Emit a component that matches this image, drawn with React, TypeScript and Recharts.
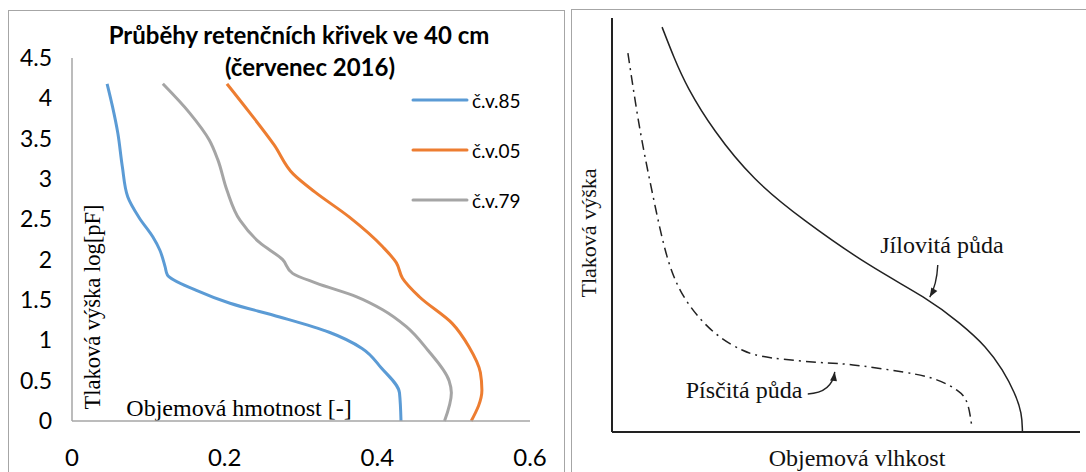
import { LineChart, Line, XAxis, YAxis, ReferenceDot, Customized } from 'recharts'

// left chart: retention curves at 40 cm (x = volumetric mass, y = log pF)
const cv85 = [
  { x: 0.046, y: 4.18 }, { x: 0.053, y: 3.9 }, { x: 0.06, y: 3.57 }, { x: 0.066, y: 3.15 },
  { x: 0.073, y: 2.78 }, { x: 0.088, y: 2.52 }, { x: 0.106, y: 2.28 }, { x: 0.115, y: 2.12 },
  { x: 0.122, y: 1.91 }, { x: 0.125, y: 1.81 }, { x: 0.163, y: 1.62 }, { x: 0.207, y: 1.46 },
  { x: 0.272, y: 1.29 }, { x: 0.337, y: 1.1 }, { x: 0.38, y: 0.9 }, { x: 0.405, y: 0.66 },
  { x: 0.429, y: 0.35 }, { x: 0.431, y: 0 },
]
const cv05 = [
  { x: 0.203, y: 4.18 }, { x: 0.233, y: 3.82 }, { x: 0.265, y: 3.42 }, { x: 0.29, y: 3.06 },
  { x: 0.318, y: 2.84 }, { x: 0.363, y: 2.53 }, { x: 0.407, y: 2.16 }, { x: 0.425, y: 1.96 },
  { x: 0.433, y: 1.77 }, { x: 0.455, y: 1.54 }, { x: 0.498, y: 1.21 }, { x: 0.52, y: 0.92 },
  { x: 0.535, y: 0.6 }, { x: 0.537, y: 0.38 }, { x: 0.523, y: 0 },
]
const cv79 = [
  { x: 0.119, y: 4.18 }, { x: 0.154, y: 3.82 }, { x: 0.18, y: 3.48 }, { x: 0.191, y: 3.24 },
  { x: 0.203, y: 2.86 }, { x: 0.22, y: 2.49 }, { x: 0.246, y: 2.21 }, { x: 0.276, y: 2.0 },
  { x: 0.289, y: 1.83 }, { x: 0.32, y: 1.71 }, { x: 0.373, y: 1.54 }, { x: 0.407, y: 1.38 },
  { x: 0.438, y: 1.17 }, { x: 0.466, y: 0.88 }, { x: 0.494, y: 0.5 }, { x: 0.497, y: 0.35 },
  { x: 0.488, y: 0 },
]
const xTicks = [0, 0.2, 0.4, 0.6]
const yTicks = [0, 0.5, 1, 1.5, 2, 2.5, 3, 3.5, 4, 4.5]
const seriesNames = ['č.v.85', 'č.v.05', 'č.v.79']

// right schematic (relative units 0..100)
const clayCurve = [
  { x: 10.7, y: 97.8 }, { x: 13.2, y: 90.5 }, { x: 16.0, y: 83.3 }, { x: 21.6, y: 72.9 },
  { x: 30.1, y: 60.9 }, { x: 40.8, y: 51.2 }, { x: 55.1, y: 39.9 }, { x: 67.3, y: 32.4 },
  { x: 74.4, y: 26.3 }, { x: 80.1, y: 20.5 }, { x: 83.5, y: 15.0 }, { x: 86.1, y: 9.4 },
  { x: 87.6, y: 4.6 }, { x: 87.7, y: 0 },
]
const sandCurve = [
  { x: 3.4, y: 91.5 }, { x: 6.0, y: 72.9 }, { x: 8.8, y: 56.8 }, { x: 12.0, y: 41.5 },
  { x: 16.2, y: 31.2 }, { x: 22.0, y: 23.9 }, { x: 27.8, y: 19.8 }, { x: 34.2, y: 17.9 },
  { x: 45.5, y: 16.7 }, { x: 51.5, y: 16.2 }, { x: 62.2, y: 14.5 }, { x: 69.4, y: 12.6 },
  { x: 73.7, y: 10.1 }, { x: 75.9, y: 7.0 }, { x: 76.9, y: 1.2 },
]
const soilLabels = [
  { name: 'Jílovitá půda', x: 70.5, y: 45.2 },
  { name: 'Písčitá půda', x: 28.2, y: 10.1 },
]
const arrowTips = [
  { x: 67.9, y: 32.6, sx: 8, sy: -32, cx: 7, cy: -12 },
  { x: 47.6, y: 14.5, sx: -27, sy: 22, cx: -3, cy: 21 },
]

const COLORS = ['#5b9bd5', '#ed7d31', '#a5a5a5']
const SANS = 'Lato, "Open Sans", sans-serif'
const SERIF = '"Liberation Serif", "DejaVu Serif", serif'

function Arrow(props: any) {
  const { cx, cy, payload } = props
  const a = payload
  // arrowhead along the tangent at the tip
  const dx = -a.cx, dy = -a.cy
  const len = Math.hypot(dx, dy) || 1
  const ux = dx / len, uy = dy / len
  const bx = -ux * 9, by = -uy * 9
  const px = -uy * 3.5, py = ux * 3.5
  return (
    <g transform={`translate(${cx},${cy})`}>
      <path d={`M${a.sx},${a.sy} Q${a.cx},${a.cy} 0,0`} fill="none" stroke="#222" strokeWidth={1.4} />
      <path d={`M0,0 L${bx + px},${by + py} L${bx - px},${by - py} Z`} fill="#222" />
    </g>
  )
}

export default function App() {
  const tickStyle = { fill: '#000', fontSize: 23, fontFamily: SANS }
  return (
    <div style={{ position: 'absolute', left: 0, top: 0, width: 1086, height: 472, background: '#fff', overflow: 'hidden' }}>
      <div style={{ position: 'absolute', left: 8, top: 10, width: 555, height: 480, borderTop: '1.5px solid #a6a6a6', borderLeft: '1.5px solid #a6a6a6', borderRight: '1.5px solid #a6a6a6' }} />
      <div style={{ position: 'absolute', left: 571, top: 9, width: 530, height: 480, borderTop: '1.5px solid #a6a6a6', borderLeft: '1.5px solid #a6a6a6' }} />

      <div style={{ position: 'absolute', left: 0, top: 0 }}>
        <LineChart width={564} height={472} margin={{ top: 58, right: 34, bottom: 21, left: 42 }}>
          <XAxis type="number" dataKey="x" domain={[0, 0.6]} ticks={xTicks} height={30} tickLine={false} tickSize={0} tickMargin={28}
            axisLine={{ stroke: '#a6a6a6', strokeWidth: 1.5 }} tick={{ ...tickStyle, fontSize: 24 }} allowDataOverflow />
          <YAxis type="number" domain={[0, 4.5]} ticks={yTicks} width={30} tickLine={false} tickSize={0} tickMargin={20}
            axisLine={{ stroke: '#a6a6a6', strokeWidth: 1.5 }} tick={tickStyle} />
          <Line data={cv85} dataKey="y" name={seriesNames[0]} type="monotoneY" stroke={COLORS[0]} strokeWidth={3} dot={false} isAnimationActive={false} />
          <Line data={cv05} dataKey="y" name={seriesNames[1]} type="monotoneY" stroke={COLORS[1]} strokeWidth={3} dot={false} isAnimationActive={false} />
          <Line data={cv79} dataKey="y" name={seriesNames[2]} type="monotoneY" stroke={COLORS[2]} strokeWidth={3} dot={false} isAnimationActive={false} />
          <Customized component={() => (
            <g>
              <text x={299} y={34} textAnchor="middle" dominantBaseline="central" fontFamily={SANS} fontWeight="bold" fontSize={24}>Průběhy retenčních křivek ve 40 cm</text>
              <text x={310} y={66} textAnchor="middle" dominantBaseline="central" fontFamily={SANS} fontWeight="bold" fontSize={24}>(červenec 2016)</text>
              <text transform="translate(92,307) rotate(-90)" textAnchor="middle" dominantBaseline="central" fontFamily={SERIF} fontSize={22.5}>Tlaková výška log[pF]</text>
              <text x={239} y={408} textAnchor="middle" dominantBaseline="central" fontFamily={SERIF} fontSize={24}>Objemová hmotnost [-]</text>
              {seriesNames.map((n, i) => (
                <g key={n}>
                  <line x1={413} x2={467} y1={100 + i * 50} y2={100 + i * 50} stroke={COLORS[i]} strokeWidth={3} strokeLinecap="round" />
                  <text x={472} y={100 + i * 50} dominantBaseline="central" fontFamily={SANS} fontSize={19}>{n}</text>
                </g>
              ))}
            </g>
          )} />
        </LineChart>
      </div>

      <div style={{ position: 'absolute', left: 571, top: 0 }}>
        <LineChart width={515} height={472} margin={{ top: 18, right: 6, bottom: 30, left: 31 }}>
          <XAxis type="number" dataKey="x" domain={[0, 100]} height={10} tick={false} tickLine={false} axisLine={{ stroke: '#222', strokeWidth: 2 }} />
          <YAxis type="number" domain={[0, 100]} width={10} tick={false} tickLine={false} axisLine={{ stroke: '#222', strokeWidth: 2 }} />
          <Line data={clayCurve} dataKey="y" type="basis" stroke="#222" strokeWidth={1.5} dot={false} isAnimationActive={false} />
          <Line data={sandCurve} dataKey="y" type="natural" stroke="#222" strokeWidth={1.5} strokeDasharray="10 5 2 5" dot={false} isAnimationActive={false} />
          {soilLabels.map((l) => (
            <ReferenceDot key={l.name} x={l.x} y={l.y} r={0}
              shape={(p: any) => <text x={p.cx} y={p.cy} textAnchor="middle" dominantBaseline="central" fontFamily={SERIF} fontSize={24} fill="#111">{l.name}</text>} />
          ))}
          {arrowTips.map((a, i) => (
            <ReferenceDot key={i} x={a.x} y={a.y} r={0} shape={(p: any) => <Arrow cx={p.cx} cy={p.cy} payload={a} />} />
          ))}
          <Customized component={() => (
            <g>
              <text transform="translate(17,233) rotate(-90)" textAnchor="middle" dominantBaseline="central" fontFamily={SERIF} fontSize={22} fill="#111">Tlaková výška</text>
              <text x={286} y={458} textAnchor="middle" dominantBaseline="central" fontFamily={SERIF} fontSize={24} fill="#111">Objemová vlhkost</text>
            </g>
          )} />
        </LineChart>
      </div>
    </div>
  )
}
